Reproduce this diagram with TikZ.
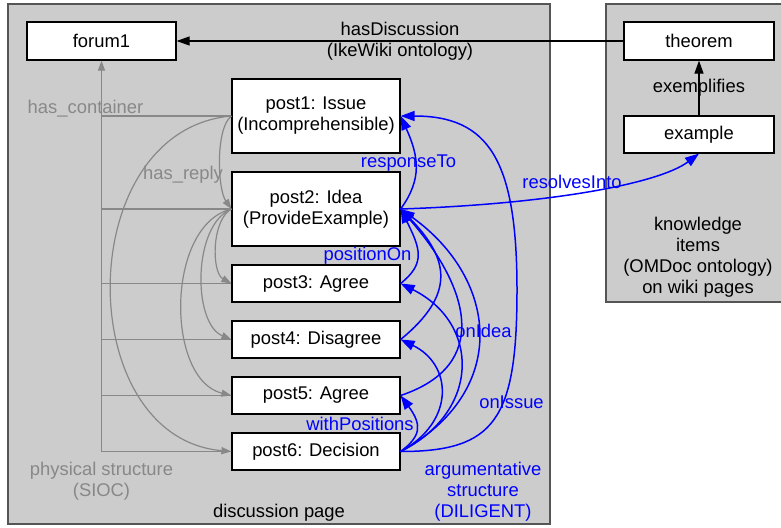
\documentclass[tikz,border=0pt]{standalone}
\usepackage{fontspec}
\setmainfont{Liberation Sans}
\usetikzlibrary{arrows.meta}
\definecolor{panelgray}{HTML}{CCCCCC}
\definecolor{panelline}{HTML}{555555}
\definecolor{siocgray}{HTML}{888888}
\definecolor{argblue}{HTML}{0000FF}
\newcommand\labfont{\fontsize{18.4}{21}\selectfont}

\begin{document}
\begin{tikzpicture}[x=1pt,y=-1pt,
  panel/.style={fill=panelgray,draw=panelline,line width=1.5pt},
  box/.style={draw=black,fill=white,line width=1.2pt,inner sep=0pt,align=center,font=\labfont},
  wide/.style={box,minimum width=168pt,minimum height=74pt},
  flat/.style={box,minimum width=168pt,minimum height=37pt},
  lbl/.style={font=\labfont,align=center,inner sep=0pt},
  siocl/.style={lbl,text=siocgray},
  argl/.style={lbl,text=argblue},
  rel/.style={draw=black,line width=1.2pt,-{Triangle[length=13pt,width=9pt]}},
  sioc/.style={draw=siocgray,line width=1.2pt,-{Triangle[length=10pt,width=7pt]}},
  siocplain/.style={draw=siocgray,line width=1.2pt},
  arg/.style={draw=argblue,line width=1.5pt,-{Triangle[length=14pt,width=10pt]}}]
\useasboundingbox (0,0) rectangle (781,527);

% the two pages
\path[panel] (8,4) rectangle (550,524);
\fill[panelgray] (606,4) rectangle (781,302);
\draw[panelline,line width=1.5pt] (781,4) -- (606,4) -- (606,302) -- (781,302);

% discussion page items
\node[box,minimum width=149pt,minimum height=38pt] (forum) at (101.5,41) {forum1};
\node[wide] (p1) at (316,116) {post1: Issue\\(Incomprehensible)};
\node[wide] (p2) at (316,209) {post2: Idea\\(ProvideExample)};
\node[flat] (p3) at (316,283.5) {post3: Agree};
\node[flat] (p4) at (316,339.5) {post4: Disagree};
\node[flat] (p5) at (316,395.5) {post5: Agree};
\node[flat] (p6) at (316,451.5) {post6: Decision};

% knowledge items
\node[box,minimum width=150pt,minimum height=38pt] (thm) at (699,41) {theorem};
\node[box,minimum width=150pt,minimum height=37pt] (ex) at (699,134.5) {example};

% IkeWiki and OMDoc relations
\draw[rel] (thm) -- (forum);
\draw[rel] (ex) -- (thm);
\node[lbl] (hasdisc) at (400,41.5) {hasDiscussion\\(IkeWiki ontology)};
\node[lbl] (exempl) at (699,88) {exemplifies};

% physical structure: has_container
\draw[sioc] (p6.west) -| (forum.south);
\foreach \p in {p1,p2,p3,p4,p5}
  \draw[siocplain] (\p.west) -- (\p.west -| forum.south);

% physical structure: has_reply
\draw[sioc] (p1.west) .. controls +(-16,12) and +(-14,-20) .. (p2.west);
\draw[sioc] (p1.west) .. controls +(-160,14) and +(-160,-14) .. (p6.west);
\draw[sioc] (p2.west) .. controls +(-20,11) and +(-20,-11) .. (p3.west);
\draw[sioc] (p2.west) .. controls +(-39,16) and +(-39,-16) .. (p4.west);
\draw[sioc] (p2.west) .. controls +(-66,16) and +(-66,-16) .. (p5.west);

\node[siocl] (hascont) at (85.5,109) {has\_container};
\node[siocl] (hasreply) at (183,175) {has\_reply};
\node[siocl] (physical) at (101.5,481.5) {physical structure\\(SIOC)};

% argumentative structure
\draw[arg] (p2.east) .. controls +(22,-30) and +(18,40) .. (p1.east);
\draw[arg] (p3.east) .. controls +(25,-20) and +(20,40) .. (p2.east);
\draw[arg] (p4.east) .. controls +(55,-45) and +(49,50) .. (p2.east);
\draw[arg] (p5.east) .. controls +(90,-30) and +(70,80) .. (p2.east);
\draw[arg] (p6.east) .. controls +(110,-60) and +(98,70) .. (p2.east);
\coordinate (issuebend) at (517,290);
\draw[arg] (p6.east) .. controls +(94,0) and +(0,130) .. (issuebend)
  .. controls +(0,-130) and +(88,0) .. (p1.east);
\draw[arg] (p6.east) .. controls +(20,-15) and +(22,30) .. (p5.east);
\draw[arg] (p6.east) .. controls +(55,-30) and +(52,25) .. (p4.east);
\draw[arg] (p6.east) .. controls +(80,-40) and +(80,40) .. (p3.east);
\draw[arg] (p2.east) .. controls +(150,-5) and +(-40,30) .. (ex.south);

\node[argl] (respto) at (408.5,163) {responseTo};
\node[argl] (poson) at (367.5,256) {positionOn};
\node[argl] (resinto) at (572,182) {resolvesInto};
\node[argl] (onidea) at (483.5,331) {onIdea};
\node[argl] (onissue) at (511.5,402) {onIssue};
\node[argl] (withpos) at (360,424) {withPositions};
\node[argl] (argstruct) at (483,491.5) {argumentative\\structure\\(DILIGENT)};

% page captions
\node[lbl] (discpage) at (279,513) {discussion page};
\node[lbl] (kitems) at (698,257.5) {knowledge\\items\\(OMDoc ontology)\\on wiki pages};
\end{tikzpicture}
\end{document}
